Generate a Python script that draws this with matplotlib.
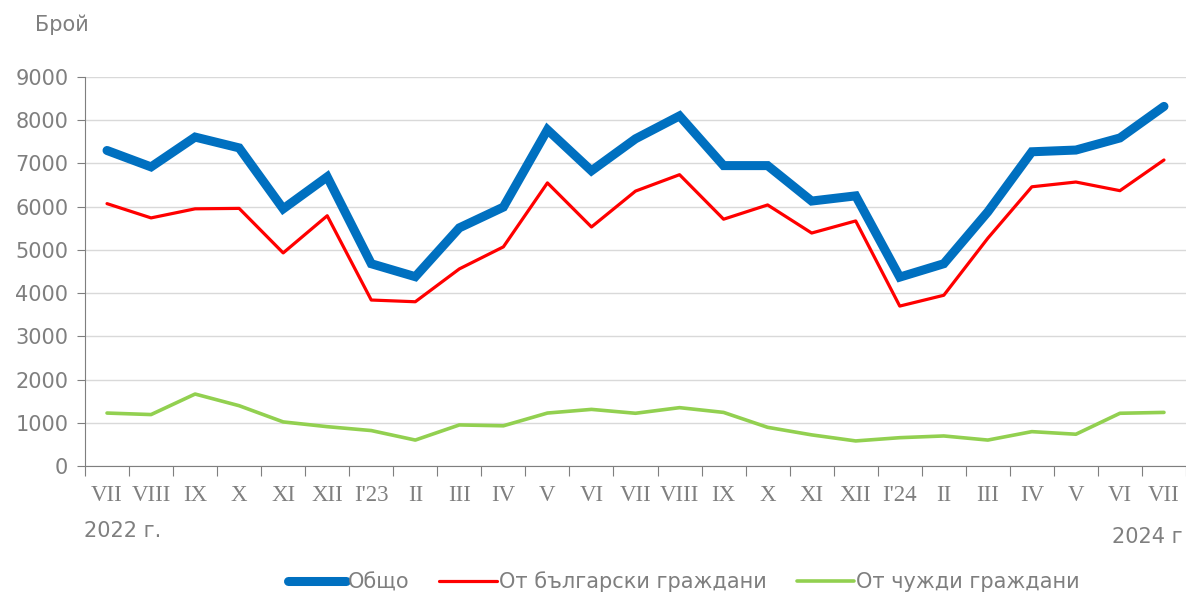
import matplotlib
matplotlib.use('Agg')
import matplotlib.pyplot as plt
import numpy as np

# monthly counts, VII 2022 .. VII 2024
months = ['VII', 'VIII', 'IX', 'X', 'XI', 'XII', "I'23", 'II', 'III', 'IV', 'V', 'VI',
          'VII', 'VIII', 'IX', 'X', 'XI', 'XII', "I'24", 'II', 'III', 'IV', 'V', 'VI', 'VII']
total = [7300, 6920, 7610, 7360, 5950, 6690, 4680, 4380, 5510, 5990, 7780, 6830,
         7570, 8100, 6950, 6950, 6130, 6250, 4370, 4680, 5880, 7270, 7310, 7590, 8320]
bulgarian = [6070, 5740, 5950, 5960, 4930, 5790, 3840, 3800, 4560, 5070, 6550, 5530,
             6360, 6740, 5710, 6040, 5390, 5670, 3700, 3950, 5270, 6460, 6570, 6370, 7080]
foreign = [1225, 1190, 1665, 1395, 1020, 910, 820, 600, 950, 930, 1225, 1310,
           1220, 1350, 1240, 895, 720, 580, 655, 695, 600, 795, 735, 1220, 1240]

GRAY = '#7f7f7f'
W, H = 1186, 594

fig = plt.figure(figsize=(W / 100, H / 100), dpi=100)
ax = fig.add_axes([85 / W, 1 - 466 / H, 1 - 85 / W, (466 - 77) / H])

x = np.arange(len(months))
ax.plot(x, total, color='#0070C0', lw=6.5, solid_capstyle='round', solid_joinstyle='miter', label='Общо', zorder=3)
ax.plot(x, bulgarian, color='#FF0000', lw=2.3, solid_capstyle='round', label='От български граждани', zorder=4)
ax.plot(x, foreign, color='#92D050', lw=2.6, solid_capstyle='round', label='От чужди граждани', zorder=2)

ax.set_ylim(0, 9000)
ax.set_xlim(-0.5, -0.5 + (W - 85) / 44.33)
ax.set_yticks(np.arange(0, 9001, 1000))
ax.yaxis.grid(True, color='#d9d9d9', lw=1.0)
ax.set_axisbelow(True)

# boundaries as major ticks, labels on minor ticks at the centres
ax.set_xticks(np.arange(-0.5, len(months) + 0.5, 1))
ax.set_xticklabels([])
ax.set_xticks(x, minor=True)
ax.set_xticklabels(months, minor=True, family='Liberation Serif', fontsize=16.5, color=GRAY)
ax.tick_params(axis='x', which='major', length=7, color=GRAY, direction='out')
ax.tick_params(axis='x', which='minor', length=0, pad=14)
ax.tick_params(axis='y', length=6, color=GRAY, labelsize=15, labelcolor=GRAY, pad=6)

for s in ['top', 'right']:
    ax.spines[s].set_visible(False)
for s in ['left', 'bottom']:
    ax.spines[s].set_color(GRAY)

fig.text(35 / W, 1 - 25 / H, 'Брой', fontsize=15, color=GRAY, va='center', ha='left')
fig.text(84 / W, 1 - 531 / H, '2022 г.', fontsize=15, color=GRAY, va='center', ha='left')
fig.text(1183 / W, 1 - 537 / H, '2024 г', fontsize=15, color=GRAY, va='center', ha='right')

leg = fig.legend(loc='center', bbox_to_anchor=(684 / W, 1 - 582 / H), ncol=3, frameon=False,
                 fontsize=15, handlelength=2.75, handletextpad=0.1, columnspacing=1.45)
for t in leg.get_texts():
    t.set_color(GRAY)

fig.savefig('out.png', dpi=100)
